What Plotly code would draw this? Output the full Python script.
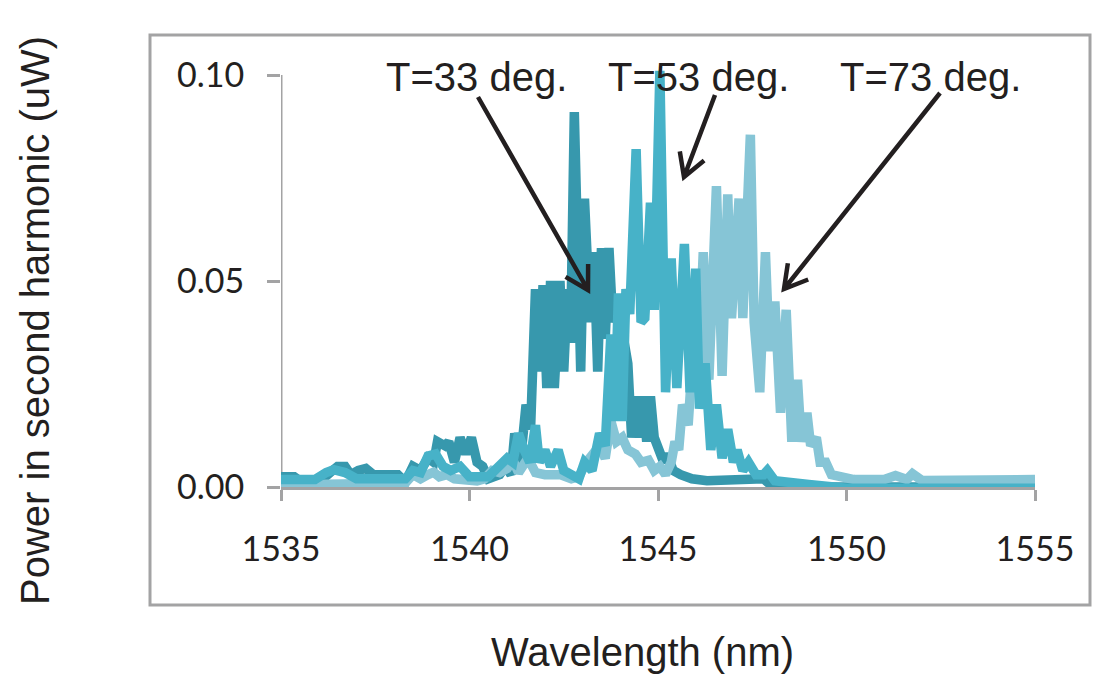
import math
import plotly.graph_objects as go

# ---------------- data ----------------
wl_33 = [1535.00, 1535.35, 1535.50, 1536.05, 1536.30, 1536.50, 1536.70, 1536.85, 1537.05, 1537.25,
         1537.45, 1537.70, 1538.10, 1538.30, 1538.50, 1538.70, 1538.90, 1539.05, 1539.15, 1539.35,
         1539.45, 1539.60, 1539.75, 1539.90, 1540.05, 1540.20, 1540.35, 1540.50, 1540.80, 1540.95,
         1541.10, 1541.20, 1541.35, 1541.50, 1541.62, 1541.75, 1541.85, 1541.95, 1542.05, 1542.15,
         1542.25, 1542.40, 1542.50, 1542.60, 1542.68, 1542.78, 1542.95, 1543.05, 1543.20, 1543.30,
         1543.40, 1543.50, 1543.60, 1543.70, 1543.80, 1543.92, 1544.05, 1544.20, 1544.30, 1544.40,
         1544.50, 1544.60, 1544.70, 1544.80, 1544.90, 1545.00, 1545.15, 1545.25, 1545.40, 1545.60,
         1545.90, 1546.30, 1547.00, 1547.50, 1547.80, 1548.00, 1549.00, 1555.00]
pw_33 = [0.0025, 0.0025, 0.0015, 0.0015, 0.0035, 0.0050, 0.0050, 0.0030, 0.0040, 0.0045,
         0.0030, 0.0030, 0.0030, 0.0012, 0.0050, 0.0040, 0.0070, 0.0060, 0.0110, 0.0100,
         0.0110, 0.0060, 0.0120, 0.0080, 0.0120, 0.0060, 0.0050, 0.0020, 0.0030, 0.0050,
         0.0030, 0.0130, 0.0060, 0.0200, 0.0140, 0.0480, 0.0280, 0.0490, 0.0240, 0.0500,
         0.0240, 0.0500, 0.0280, 0.0480, 0.0350, 0.0910, 0.0280, 0.0700, 0.0400, 0.0570,
         0.0280, 0.0580, 0.0360, 0.0580, 0.0400, 0.0450, 0.0370, 0.0300, 0.0120, 0.0220,
         0.0120, 0.0220, 0.0110, 0.0220, 0.0120, 0.0100, 0.0060, 0.0080, 0.0040, 0.0030,
         0.0020, 0.0015, 0.0015, 0.0020, 0.0020, 0.0004, 0.0000, 0.0000]

wl_53 = [1535.00, 1535.90, 1536.20, 1536.40, 1536.70, 1537.00, 1538.00, 1538.30, 1538.50, 1538.70,
         1538.90, 1539.10, 1539.30, 1539.50, 1539.75, 1540.00, 1540.50, 1540.80, 1541.00, 1541.15,
         1541.30, 1541.45, 1541.60, 1541.75, 1541.85, 1542.00, 1542.15, 1542.35, 1542.50, 1542.70,
         1542.90, 1543.05, 1543.25, 1543.45, 1543.60, 1543.75, 1543.85, 1543.95, 1544.05, 1544.15,
         1544.25, 1544.42, 1544.55, 1544.65, 1544.80, 1544.90, 1545.05, 1545.20, 1545.35, 1545.50,
         1545.70, 1545.85, 1546.00, 1546.10, 1546.25, 1546.40, 1546.55, 1546.70, 1546.85, 1547.00,
         1547.10, 1547.25, 1547.40, 1547.60, 1547.80, 1547.90, 1548.10, 1549.00, 1550.00, 1555.00]
pw_53 = [0.0018, 0.0018, 0.0035, 0.0042, 0.0035, 0.0020, 0.0020, 0.0020, 0.0040, 0.0035,
         0.0075, 0.0080, 0.0050, 0.0040, 0.0050, 0.0025, 0.0025, 0.0050, 0.0070, 0.0060,
         0.0130, 0.0090, 0.0060, 0.0150, 0.0060, 0.0090, 0.0050, 0.0090, 0.0040, 0.0030,
         0.0020, 0.0060, 0.0040, 0.0130, 0.0100, 0.0370, 0.0160, 0.0470, 0.0160, 0.0480,
         0.0420, 0.0820, 0.0400, 0.0410, 0.0690, 0.0430, 0.1010, 0.0230, 0.0555, 0.0240,
         0.0590, 0.0230, 0.0530, 0.0190, 0.0300, 0.0090, 0.0200, 0.0070, 0.0140, 0.0060,
         0.0090, 0.0040, 0.0060, 0.0030, 0.0030, 0.0040, 0.0015, 0.0006, -0.0003, -0.0003]

wl_73 = [1535.00, 1536.00, 1536.50, 1537.00, 1537.50, 1538.00, 1538.30, 1538.50, 1538.70, 1538.90,
         1539.05, 1539.20, 1539.40, 1539.60, 1539.90, 1540.20, 1540.40, 1540.60, 1540.80, 1541.00,
         1541.15, 1541.30, 1541.55, 1541.75, 1542.00, 1542.40, 1542.70, 1542.90, 1543.10, 1543.30,
         1543.45, 1543.60, 1543.75, 1543.90, 1544.05, 1544.20, 1544.40, 1544.55, 1544.75, 1544.90,
         1545.05, 1545.20, 1545.35, 1545.45, 1545.55, 1545.65, 1545.80, 1545.95, 1546.05, 1546.20,
         1546.35, 1546.55, 1546.70, 1546.85, 1546.95, 1547.15, 1547.25, 1547.45, 1547.55, 1547.70,
         1547.85, 1547.95, 1548.10, 1548.25, 1548.40, 1548.55, 1548.70, 1548.80, 1548.95, 1549.05,
         1549.20, 1549.30, 1549.45, 1549.60, 1549.80, 1550.20, 1551.00, 1551.30, 1551.60, 1551.75,
         1552.00, 1553.50, 1554.00, 1555.00]
pw_73 = [0.0005, 0.0006, 0.0010, 0.0010, 0.0008, 0.0010, 0.0010, 0.0030, 0.0020, 0.0030,
         0.0036, 0.0025, 0.0030, 0.0020, 0.0015, 0.0015, 0.0020, 0.0040, 0.0035, 0.0045,
         0.0065, 0.0035, 0.0070, 0.0035, 0.0030, 0.0030, 0.0020, 0.0025, 0.0060, 0.0080,
         0.0100, 0.0070, 0.0160, 0.0110, 0.0120, 0.0090, 0.0080, 0.0060, 0.0065, 0.0040,
         0.0050, 0.0030, 0.0060, 0.0110, 0.0090, 0.0200, 0.0150, 0.0360, 0.0240, 0.0570,
         0.0260, 0.0730, 0.0270, 0.0710, 0.0410, 0.0700, 0.0410, 0.0855, 0.0400, 0.0230,
         0.0570, 0.0330, 0.0450, 0.0180, 0.0430, 0.0110, 0.0260, 0.0110, 0.0180, 0.0100,
         0.0120, 0.0060, 0.0060, 0.0030, 0.0025, 0.0018, 0.0018, 0.0028, 0.0018, 0.0032,
         0.0016, 0.0016, 0.0018, 0.0018]

x_ticks = [1535, 1540, 1545, 1550, 1555]
y_ticks = [0.0, 0.05, 0.10]
y_tick_text = ["0.00", "0.05", "0.10"]

labels = ["T=33 deg.", "T=53 deg.", "T=73 deg."]
colors = ["#3798AD", "#86C5D6", "#47B2C8"]

# ---------------- layout geometry ----------------
W, H = 1094, 679
L, R, T, B = 281, 59, 55, 192
PW = W - L - R
PH = H - T - B
Y_TOP = 0.1 * PH / (H - B - 75)


def px(x):
    return (x - L) / PW


def py(y):
    return (H - B - y) / PH


fig = go.Figure()
series = [(wl_33, pw_33, colors[0]), (wl_73, pw_73, colors[1]), (wl_53, pw_53, colors[2])]
for wl, pw, c in series:
    fig.add_trace(go.Scatter(x=wl, y=pw, mode="lines",
                             line=dict(color=c, width=9.5),
                             hoverinfo="skip", showlegend=False))

GRAY = "#A3A3A4"
INK = "#231F20"

shapes = [
    dict(type="rect", xref="paper", yref="paper", x0=px(150), x1=px(1090), y0=py(605), y1=py(35),
         line=dict(color=GRAY, width=3), fillcolor="rgba(0,0,0,0)", layer="below"),
    dict(type="line", xref="x", yref="y", x0=1535, x1=1535, y0=0, y1=0.1,
         line=dict(color=GRAY, width=3), layer="below"),
]


def arrow_path(x0, y0, x1, y1, arm=26, ang=30):
    a = math.atan2(y1 - y0, x1 - x0)
    pts = []
    for s in (1, -1):
        b = a + math.pi + s * math.radians(ang)
        pts.append((x1 + arm * math.cos(b), y1 + arm * math.sin(b)))

    def P(x, y):
        return f"{px(x):.5f},{py(y):.5f}"
    return (f"M{P(x0, y0)} L{P(x1, y1)} M{P(*pts[0])} L{P(x1, y1)} L{P(*pts[1])}")


arrows = [((478, 97), (588, 290)), ((715, 95), (684, 177)), ((940, 93), (784, 289))]
for (a0, a1) in arrows:
    shapes.append(dict(type="path", xref="paper", yref="paper",
                       path=arrow_path(a0[0], a0[1], a1[0], a1[1]),
                       line=dict(color=INK, width=4.5)))

text_pos = [(476, 77), (698, 77), (930, 77)]
annotations = []
for lab, (tx, ty) in zip(labels, text_pos):
    annotations.append(dict(text=lab, x=px(tx), y=py(ty), xref="paper", yref="paper",
                            showarrow=False, xanchor="center", yanchor="middle",
                            font=dict(family="Liberation Sans, Arial", size=40, color=INK)))
annotations.append(dict(text="Wavelength (nm)", x=px(642), y=py(652), xref="paper", yref="paper",
                        showarrow=False, xanchor="center", yanchor="middle",
                        font=dict(family="Liberation Sans, Arial", size=40, color=INK)))
annotations.append(dict(text="Power in second harmonic (uW)", x=px(35), y=py(320), xref="paper",
                        yref="paper", showarrow=False, xanchor="center", yanchor="middle",
                        textangle=-90,
                        font=dict(family="Liberation Sans, Arial", size=40, color=INK)))

fig.update_layout(
    width=W, height=H,
    margin=dict(l=L, r=R, t=T, b=B, autoexpand=False),
    paper_bgcolor="white", plot_bgcolor="white",
    shapes=shapes, annotations=annotations,
    hovermode=False,
    xaxis=dict(range=[1535, 1555], tickvals=x_ticks, ticktext=[str(v) for v in x_ticks],
               showgrid=False, zeroline=False, showline=True, linecolor=GRAY, linewidth=3,
               ticks="outside", ticklen=11, tickwidth=3, tickcolor=GRAY,
               ticklabelstandoff=19, layer="below traces",
               tickfont=dict(family="Lato", size=34, color=INK)),
    yaxis=dict(range=[0, Y_TOP], tickvals=y_ticks, ticktext=y_tick_text,
               showgrid=False, zeroline=False, showline=False,
               ticks="outside", ticklen=13, tickwidth=3, tickcolor=GRAY,
               ticklabelstandoff=16, layer="below traces",
               tickfont=dict(family="Lato", size=34, color=INK)),
)

fig.write_html("out.html", config={"displayModeBar": False},
               post_script="document.body.style.margin='0px';document.body.style.overflow='hidden';")
